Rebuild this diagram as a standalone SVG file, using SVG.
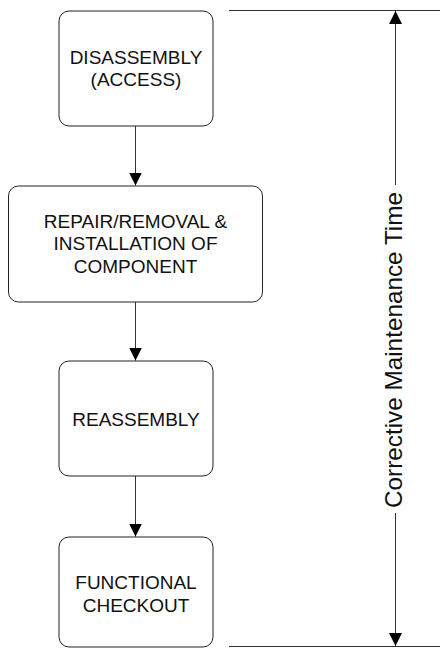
<svg xmlns="http://www.w3.org/2000/svg" width="440" height="648" viewBox="0 0 440 648">
<defs>
<style>
.box{fill:#fff;stroke:#222;stroke-width:1}
.lbl{font-family:"Liberation Sans",Arial,sans-serif;font-size:19px;fill:#111;text-anchor:middle}
.dim{font-family:"Liberation Sans",Arial,sans-serif;font-size:24.3px;fill:#111;text-anchor:middle}
.ln{stroke:#333;stroke-width:1;fill:none}
</style>
<marker id="ah" viewBox="0 0 13 13" refX="13" refY="6.5" markerWidth="13" markerHeight="13" markerUnits="userSpaceOnUse" orient="auto">
<path d="M0,0 L13,6.5 L0,13 Z" fill="#000"/>
</marker>
</defs>
<rect width="440" height="648" fill="#fff"/>
<g id="connectors">
<line class="ln" x1="135.5" y1="126" x2="135.5" y2="185.5" marker-end="url(#ah)"/>
<line class="ln" x1="135.5" y1="302" x2="135.5" y2="360.5" marker-end="url(#ah)"/>
<line class="ln" x1="135.5" y1="476" x2="135.5" y2="536.5" marker-end="url(#ah)"/>
</g>
<g id="dimension">
<line class="ln" x1="229" y1="10.5" x2="440" y2="10.5" stroke="#000"/>
<line class="ln" x1="229" y1="646.5" x2="440" y2="646.5" stroke="#000"/>
<line class="ln" x1="395.5" y1="185" x2="395.5" y2="11" marker-end="url(#ah)"/>
<line class="ln" x1="395.5" y1="513" x2="395.5" y2="646" marker-end="url(#ah)"/>
<text class="dim" transform="translate(402,350) rotate(-90)">Corrective Maintenance Time</text>
</g>
<g id="disassembly">
<rect class="box" x="59" y="11" width="154" height="115" rx="10"/>
<text class="lbl" x="136" y="64">DISASSEMBLY</text>
<text class="lbl" x="136" y="86">(ACCESS)</text>
</g>
<g id="repair">
<rect class="box" x="8.5" y="186" width="254" height="116" rx="10"/>
<text class="lbl" x="135.5" y="227.5">REPAIR/REMOVAL &amp;</text>
<text class="lbl" x="135.5" y="250">INSTALLATION OF</text>
<text class="lbl" x="135.5" y="273">COMPONENT</text>
</g>
<g id="reassembly">
<rect class="box" x="59" y="361" width="154" height="115" rx="10"/>
<text class="lbl" x="136" y="425.5">REASSEMBLY</text>
</g>
<g id="checkout">
<rect class="box" x="59" y="537" width="154" height="110" rx="10"/>
<text class="lbl" x="136" y="589">FUNCTIONAL</text>
<text class="lbl" x="136" y="612">CHECKOUT</text>
</g>
</svg>
